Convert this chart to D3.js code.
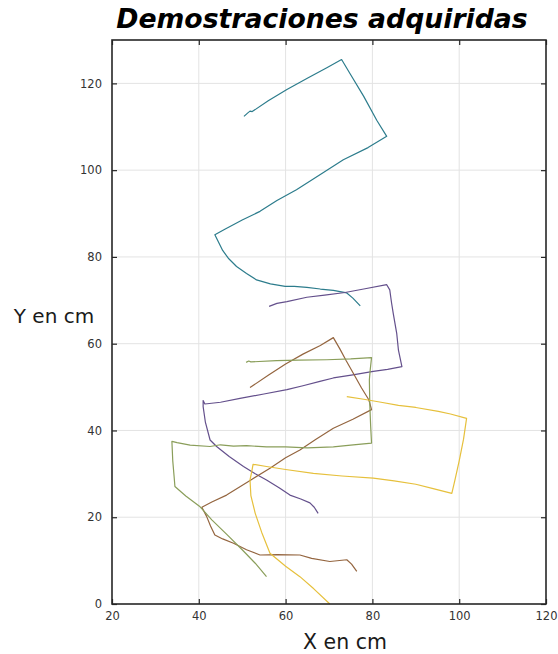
<!DOCTYPE html>
<html>
<head>
<meta charset="utf-8">
<script src="https://cdn.jsdelivr.net/npm/d3@7"></script>
<style>
  html, body { margin: 0; padding: 0; background: #fff; }
  svg { display: block; }
</style>
</head>
<body>
<svg id="chart" width="558" height="654"></svg>
<script>
// Acquired demonstration trajectories, [x, y] in cm
const demoTeal = [[50.4,112.4],[51.3,113.2],[51.8,113.6],[52.3,113.5],[56,116],[60.3,118.6],[65,121.2],[69.5,123.6],[72.9,125.5],[75,122],[78,117],[81,111.5],[83.3,107.8],[79,105.2],[73.3,102.4],[68,99],[62.5,95.5],[58,93],[54.1,90.5],[50,88.5],[46,86.4],[43.7,85.1],[44.5,83.5],[45.5,81.5],[46.8,79.7],[48.7,77.8],[51,76.2],[53.3,74.7],[56.5,73.8],[59.9,73.2],[62,73.2],[64.9,73.0],[68,72.6],[71,72.3],[74.1,71.7],[75.5,70.5],[77.2,68.7]];
const demoPurple = [[56.2,68.6],[58,69.3],[60.3,69.7],[64.9,70.7],[69,71.2],[73.7,71.8],[78,72.6],[83.3,73.6],[84,72.4],[84.4,69.5],[84.8,67.0],[85.6,62.4],[86,58.5],[86.8,54.7],[83.5,54.1],[80.2,53.6],[75.5,52.8],[71,52.1],[67.9,51.3],[64,50.3],[60.3,49.4],[55,48.4],[49.5,47.4],[45,46.5],[41.4,46.1],[41.0,46.9],[41.0,45.5],[41.5,42],[42.6,37.8],[44.1,36.3],[47,34],[50.3,31.7],[53,30],[55.6,28.6],[58.5,26.8],[61,25.1],[63.5,24.2],[65.6,23.3],[66.6,22.3],[67.5,20.9]];
const demoBrown = [[51.8,49.9],[56,52.7],[60,55.3],[64,57.6],[68,59.6],[71,61.4],[72.5,58.8],[74,56],[75.6,53.2],[77.5,49.8],[79.1,47.2],[79.4,46.3],[79.8,44.8],[75.5,42.6],[71,40.5],[67,38],[63.3,35.5],[60,33.7],[56.4,31.3],[52,28.6],[46.4,25.1],[43,23.5],[40.7,22.3],[41.8,20.2],[42.7,18],[43.7,15.9],[45.5,15],[48,14.0],[51,12.5],[54.1,11.3],[58,11.4],[63.3,11.3],[66,10.5],[70.2,9.8],[74.1,10.2],[75.2,9.2],[76.4,7.5]];
const demoGreen = [[50.9,55.7],[51.5,56.0],[52,55.8],[57.9,56.1],[63,56.2],[69.5,56.3],[75,56.5],[79.8,56.8],[79.5,54],[79.3,51.7],[79.4,46],[79.6,41],[79.8,37.1],[75,36.6],[71,36.2],[65,36.0],[60,36.2],[55.6,36.2],[51,36.5],[48,36.4],[45,36.7],[42.6,36.3],[38,36.6],[35,37.2],[33.8,37.5],[34.0,33],[34.3,29.5],[34.5,27.1],[37,24.9],[40.3,22.4],[43,19.4],[46.5,16],[50,12.5],[53,9.4],[55.6,6.3]];
const demoYellow = [[74.1,47.8],[78,47.2],[82,46.5],[86,45.8],[90,45.3],[95.2,44.4],[98,43.8],[101.7,42.8],[101,38],[100,33],[99,28.5],[98.3,25.5],[94,26.6],[90,27.6],[85,28.4],[80.2,29.0],[73,29.5],[66.4,30.1],[60,31],[55.6,31.7],[52.5,32.2],[52.2,30.5],[51.8,28.6],[52,25],[53,20.9],[54.5,16.5],[56.4,11.7],[60,8.7],[63.3,6.3],[66.5,3.5],[70.2,0]];

const seriesColors = ["#2c7c8c", "#64508c", "#94653f", "#8a9e5a", "#e6c03c"];
const xTicks = [20, 40, 60, 80, 100, 120];
const yTicks = [0, 20, 40, 60, 80, 100, 120];

const titleText = "Demostraciones adquiridas";
const xLabel = "X en cm";
const yLabel = "Y en cm";

const svg = d3.select("#chart");
const W = 558, H = 654;
const m = { top: 40, right: 12, bottom: 50, left: 112 };
const iw = W - m.left - m.right, ih = H - m.top - m.bottom;

const x = d3.scaleLinear().domain([20, 120]).range([0, iw]);
const y = d3.scaleLinear().domain([0, 130]).range([ih, 0]);

const g = svg.append("g").attr("transform", `translate(${m.left},${m.top})`);

// grid
g.append("g").selectAll("line").data(xTicks.slice(1, -1)).join("line")
  .attr("x1", d => x(d)).attr("x2", d => x(d)).attr("y1", 0).attr("y2", ih)
  .attr("stroke", "#e3e3e3").attr("stroke-width", 1);
g.append("g").selectAll("line").data(yTicks.slice(1)).join("line")
  .attr("x1", 0).attr("x2", iw).attr("y1", d => y(d)).attr("y2", d => y(d))
  .attr("stroke", "#e3e3e3").attr("stroke-width", 1);

// trajectories
const line = d3.line().x(d => x(d[0])).y(d => y(d[1])).curve(d3.curveLinear);
[demoTeal, demoPurple, demoBrown, demoGreen, demoYellow].forEach((pts, i) => {
  g.append("path").datum(pts)
    .attr("d", line)
    .attr("fill", "none")
    .attr("stroke", seriesColors[i])
    .attr("stroke-width", 1.2)
    .attr("stroke-linejoin", "round");
});

// axes with inward ticks on all four sides
const axisColor = "#262626";
const tickFont = "DejaVu Sans, sans-serif";
function styleAxis(sel) {
  sel.select(".domain").remove();
  sel.selectAll(".tick line").attr("stroke", axisColor).attr("stroke-width", 1.2);
  sel.selectAll(".tick text").attr("fill", "#333").attr("font-size", 11.5).attr("font-family", tickFont);
}
g.append("g").attr("transform", `translate(0,${ih})`)
  .call(d3.axisBottom(x).tickValues(xTicks).tickSizeInner(-5).tickSizeOuter(0).tickPadding(8))
  .call(styleAxis);
g.append("g")
  .call(d3.axisLeft(y).tickValues(yTicks).tickSizeInner(-5).tickSizeOuter(0).tickPadding(10))
  .call(styleAxis);
g.append("g")
  .call(d3.axisTop(x).tickValues(xTicks).tickSizeInner(-5).tickSizeOuter(0).tickFormat(""))
  .call(styleAxis);
g.append("g").attr("transform", `translate(${iw},0)`)
  .call(d3.axisRight(y).tickValues(yTicks).tickSizeInner(-5).tickSizeOuter(0).tickFormat(""))
  .call(styleAxis);

// frame
g.append("rect").attr("x", 0).attr("y", 0).attr("width", iw).attr("height", ih)
  .attr("fill", "none").attr("stroke", axisColor).attr("stroke-width", 1.6);

// labels
svg.append("text").attr("x", 322).attr("y", 28)
  .attr("text-anchor", "middle")
  .attr("font-family", "DejaVu Sans, sans-serif")
  .attr("font-weight", "bold").attr("font-style", "italic")
  .attr("font-size", 26.7).attr("fill", "#000")
  .text(titleText);
svg.append("text").attr("x", 345).attr("y", 649)
  .attr("text-anchor", "middle")
  .attr("font-family", "DejaVu Sans, sans-serif")
  .attr("font-size", 20.5).attr("fill", "#1a1a1a")
  .text(xLabel);
svg.append("text").attr("x", 54).attr("y", 323)
  .attr("text-anchor", "middle")
  .attr("font-family", "DejaVu Sans, sans-serif")
  .attr("font-size", 20).attr("fill", "#1a1a1a")
  .text(yLabel);
</script>
</body>
</html>
